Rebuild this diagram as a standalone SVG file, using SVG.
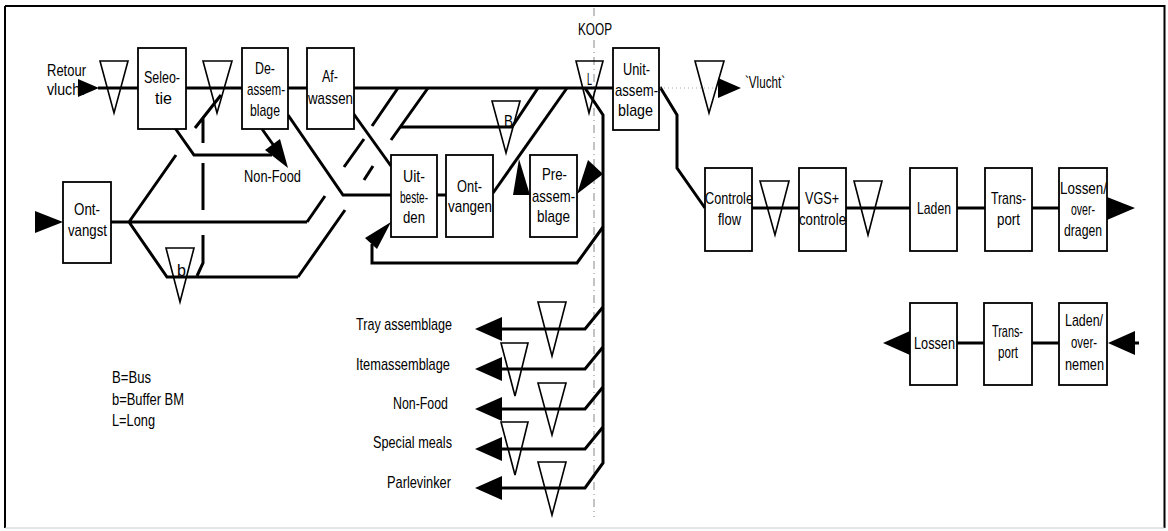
<svg xmlns="http://www.w3.org/2000/svg" width="1168" height="531" viewBox="0 0 1168 531">
<defs>
<style>
.box{fill:#fff;stroke:#000;stroke-width:1.8}
.tri{fill:none;stroke:#000;stroke-width:1.6}
.flow{fill:none;stroke:#000;stroke-width:3}
.ah{fill:#000;stroke:none}
.koop{fill:none;stroke:#888;stroke-width:1;stroke-dasharray:8 4 1 4}
.dot{fill:none;stroke:#aaa;stroke-width:1;stroke-dasharray:1 3}
text{font-family:"Liberation Sans",Arial,sans-serif;font-size:17px;fill:#000}
</style>
</defs>
<rect x="0" y="0" width="1168" height="531" fill="#fff"/>
<g id="frame">
<path d="M5,6 H1164.5 V528" fill="none" stroke="#000" stroke-width="2"/>
<path d="M5,6 V528" fill="none" stroke="#000" stroke-width="2"/>
<path d="M5,528 H1164.5" fill="none" stroke="#ccc" stroke-width="1"/>
</g>
<g id="koop-line">
<path class="koop" d="M594,8 V20 M594,40 V517"/>
<text x="578" y="35" textLength="34" lengthAdjust="spacingAndGlyphs">KOOP</text>
</g>
<g id="connectors">
<path class="flow" d="M98,88 H613"/>
<path class="flow" d="M175,128 L194,155 H272"/>
<path class="flow" d="M262,129 L279,153"/>
<polygon class="ah" points="288,168 265,150 280,139"/>
<path class="flow" d="M288,115 L343,195 H391"/>
<path class="flow" d="M353,113 L391,166"/>
<path class="flow" d="M437,195 H446"/>
<path class="flow" d="M493,193 L567,88"/>
<path class="flow" d="M538,88 L512,127 H400"/>
<path class="flow" d="M398,88 L372,126 M364,139 L344,167 M325,196 L307,222"/>
<path class="flow" d="M428,88 L391,140 M373,166 L364,180 M345,210 L298,277"/>
<path class="flow" d="M111,222 H307 M129,222 L176,155 M129,222 L167,277 H298"/>
<path class="flow" d="M221,95 L195,128 M203,117 V143 M203,163 V210 M203,235 V263 L197,276"/>
<polygon class="ah" points="78,79 78,97 99,88"/>
<polygon class="ah" points="35,211 35,233 63,222"/>
<path class="flow" d="M585,88 L603,115 V463 L585,488 H502"/>
<path class="flow" d="M603,227 L577,263 H372 V244"/>
<polygon class="ah" points="391,222 365,238 377,249"/>
<polygon class="ah" points="513,195 519,159 530,195"/>
<polygon class="ah" points="577,194 588,160 603,174"/>
<path class="flow" d="M603,307 L585,329 H502 M603,347 L585,369 H502 M603,387 L585,409 H502 M603,427 L585,449 H502"/>
<polygon class="ah" points="475,329 502,317 502,341"/>
<polygon class="ah" points="475,369 502,357 502,381"/>
<polygon class="ah" points="475,409 502,397 502,421"/>
<polygon class="ah" points="475,449 502,437 502,461"/>
<polygon class="ah" points="475,488 502,476 502,500"/>
<path class="flow" d="M660,87 L677,115 V168 L705,208"/>
<path class="dot" d="M660,88 H720"/>
<polygon class="ah" points="718,78 718,98 741,88"/>
<path class="flow" d="M752,208 H1059"/>
<polygon class="ah" points="1107,197 1107,220 1135,208"/>
<path class="flow" d="M957,343 H1059 M1135,343 H1139"/>
<polygon class="ah" points="883,343 910,331 910,355"/>
<polygon class="ah" points="1108,343 1135,331 1135,355"/>
</g>
<g id="buffer-retour"><polygon class="tri" points="100,61 128,61 114,113"/></g>
<g id="buffer-selectie"><polygon class="tri" points="203,61 232,61 217,113"/></g>
<g id="buffer-long"><polygon class="tri" points="576,61 603,61 589,113"/><text x="587" y="85" font-size="12" textLength="5" lengthAdjust="spacingAndGlyphs">L</text></g>
<g id="buffer-vlucht"><polygon class="tri" points="695,61 724,61 709,113"/></g>
<g id="buffer-bus"><polygon class="tri" points="492,101 520,101 506,153"/><text x="504" y="127" font-size="14" textLength="9" lengthAdjust="spacingAndGlyphs">B</text></g>
<g id="buffer-b"><polygon class="tri" points="166,248 194,248 180,302"/><text x="177" y="276" font-size="14" textLength="9" lengthAdjust="spacingAndGlyphs">b</text></g>
<g id="buffer-controle"><polygon class="tri" points="760,181 789,181 775,235"/></g>
<g id="buffer-vgs"><polygon class="tri" points="854,181 882,181 868,235"/></g>
<g id="buffer-tray"><polygon class="tri" points="538,302 566,302 552,356"/></g>
<g id="buffer-item"><polygon class="tri" points="501,343 528,343 515,396"/></g>
<g id="buffer-nonfood"><polygon class="tri" points="538,383 566,383 552,435"/></g>
<g id="buffer-special"><polygon class="tri" points="501,422 528,422 515,475"/></g>
<g id="buffer-parlevinker"><polygon class="tri" points="538,462 566,462 552,515"/></g>
<g id="retour-vlucht">
<text x="47" y="76" textLength="39" lengthAdjust="spacingAndGlyphs">Retour</text>
<text x="47" y="95" textLength="37" lengthAdjust="spacingAndGlyphs">vlucht</text>
</g>
<g id="selectie"><rect class="box" x="138" y="48" width="48" height="81"/>
<text x="144" y="83" textLength="36" lengthAdjust="spacingAndGlyphs">Seleo-</text>
<text x="155" y="104" textLength="17" lengthAdjust="spacingAndGlyphs">tie</text></g>
<g id="de-assemblage"><rect class="box" x="242" y="48" width="46" height="81"/>
<text x="255" y="74" textLength="20" lengthAdjust="spacingAndGlyphs">De-</text>
<text x="247" y="95" textLength="38" lengthAdjust="spacingAndGlyphs">assem-</text>
<text x="250" y="116" textLength="30" lengthAdjust="spacingAndGlyphs">blage</text></g>
<g id="af-wassen"><rect class="box" x="307" y="48" width="47" height="81"/>
<text x="322" y="82" textLength="16" lengthAdjust="spacingAndGlyphs">Af-</text>
<text x="308" y="104" textLength="45" lengthAdjust="spacingAndGlyphs">wassen</text></g>
<g id="non-food-top"><text x="244" y="182" textLength="57" lengthAdjust="spacingAndGlyphs">Non-Food</text></g>
<g id="ontvangst"><rect class="box" x="63" y="182" width="48" height="81"/>
<text x="74" y="215" textLength="26" lengthAdjust="spacingAndGlyphs">Ont-</text>
<text x="68" y="236" textLength="39" lengthAdjust="spacingAndGlyphs">vangst</text></g>
<g id="uitbesteden"><rect class="box" x="391" y="155" width="46" height="82"/>
<text x="403" y="182" textLength="22" lengthAdjust="spacingAndGlyphs">Uit-</text>
<text x="400" y="203" textLength="28" lengthAdjust="spacingAndGlyphs">beste-</text>
<text x="403" y="223" textLength="22" lengthAdjust="spacingAndGlyphs">den</text></g>
<g id="ontvangen"><rect class="box" x="446" y="155" width="47" height="82"/>
<text x="457" y="192" textLength="25" lengthAdjust="spacingAndGlyphs">Ont-</text>
<text x="448" y="212" textLength="44" lengthAdjust="spacingAndGlyphs">vangen</text></g>
<g id="pre-assemblage"><rect class="box" x="530" y="155" width="47" height="82"/>
<text x="542" y="180" textLength="25" lengthAdjust="spacingAndGlyphs">Pre-</text>
<text x="532" y="202" textLength="43" lengthAdjust="spacingAndGlyphs">assem-</text>
<text x="537" y="222" textLength="33" lengthAdjust="spacingAndGlyphs">blage</text></g>
<g id="unit-assemblage"><rect class="box" x="613" y="48" width="46" height="82"/>
<text x="623" y="75" textLength="27" lengthAdjust="spacingAndGlyphs">Unit-</text>
<text x="615" y="96" textLength="43" lengthAdjust="spacingAndGlyphs">assem-</text>
<text x="618" y="116" textLength="35" lengthAdjust="spacingAndGlyphs">blage</text></g>
<g id="vlucht-label"><text x="745" y="88" textLength="40" lengthAdjust="spacingAndGlyphs">`Vlucht`</text></g>
<g id="controle-flow"><rect class="box" x="705" y="168" width="47" height="83"/>
<text x="705" y="204" textLength="48" lengthAdjust="spacingAndGlyphs">Controle</text>
<text x="718" y="225" textLength="23" lengthAdjust="spacingAndGlyphs">flow</text></g>
<g id="vgs-controle"><rect class="box" x="799" y="168" width="47" height="83"/>
<text x="805" y="204" textLength="34" lengthAdjust="spacingAndGlyphs">VGS+</text>
<text x="799" y="225" textLength="47" lengthAdjust="spacingAndGlyphs">controle</text></g>
<g id="laden"><rect class="box" x="910" y="168" width="47" height="83"/>
<text x="917" y="214" textLength="34" lengthAdjust="spacingAndGlyphs">Laden</text></g>
<g id="transport"><rect class="box" x="985" y="168" width="47" height="83"/>
<text x="991" y="204" textLength="35" lengthAdjust="spacingAndGlyphs">Trans-</text>
<text x="997" y="225" textLength="23" lengthAdjust="spacingAndGlyphs">port</text></g>
<g id="lossen-overdragen"><rect class="box" x="1059" y="168" width="48" height="83"/>
<text x="1060" y="194" textLength="47" lengthAdjust="spacingAndGlyphs">Lossen/</text>
<text x="1071" y="215" textLength="24" lengthAdjust="spacingAndGlyphs">over-</text>
<text x="1064" y="236" textLength="38" lengthAdjust="spacingAndGlyphs">dragen</text></g>
<g id="lossen"><rect class="box" x="910" y="303" width="47" height="82"/>
<text x="914" y="349" textLength="41" lengthAdjust="spacingAndGlyphs">Lossen</text></g>
<g id="transport-2"><rect class="box" x="984" y="303" width="48" height="82"/>
<text x="992" y="337" textLength="31" lengthAdjust="spacingAndGlyphs">Trans-</text>
<text x="998" y="358" textLength="20" lengthAdjust="spacingAndGlyphs">port</text></g>
<g id="laden-overnemen"><rect class="box" x="1059" y="303" width="48" height="82"/>
<text x="1065" y="326" textLength="38" lengthAdjust="spacingAndGlyphs">Laden/</text>
<text x="1071" y="348" textLength="26" lengthAdjust="spacingAndGlyphs">over-</text>
<text x="1065" y="370" textLength="39" lengthAdjust="spacingAndGlyphs">nemen</text></g>
<g id="outputs">
<text x="356" y="330" textLength="96" lengthAdjust="spacingAndGlyphs">Tray assemblage</text>
<text x="356" y="370" textLength="94" lengthAdjust="spacingAndGlyphs">Itemassemblage</text>
<text x="393" y="409" textLength="55" lengthAdjust="spacingAndGlyphs">Non-Food</text>
<text x="373" y="448" textLength="79" lengthAdjust="spacingAndGlyphs">Special meals</text>
<text x="387" y="488" textLength="64" lengthAdjust="spacingAndGlyphs">Parlevinker</text>
</g>
<g id="legend">
<text x="112" y="383" textLength="39" lengthAdjust="spacingAndGlyphs">B=Bus</text>
<text x="112" y="405" textLength="72" lengthAdjust="spacingAndGlyphs">b=Buffer BM</text>
<text x="112" y="426" textLength="43" lengthAdjust="spacingAndGlyphs">L=Long</text>
</g>
</svg>
